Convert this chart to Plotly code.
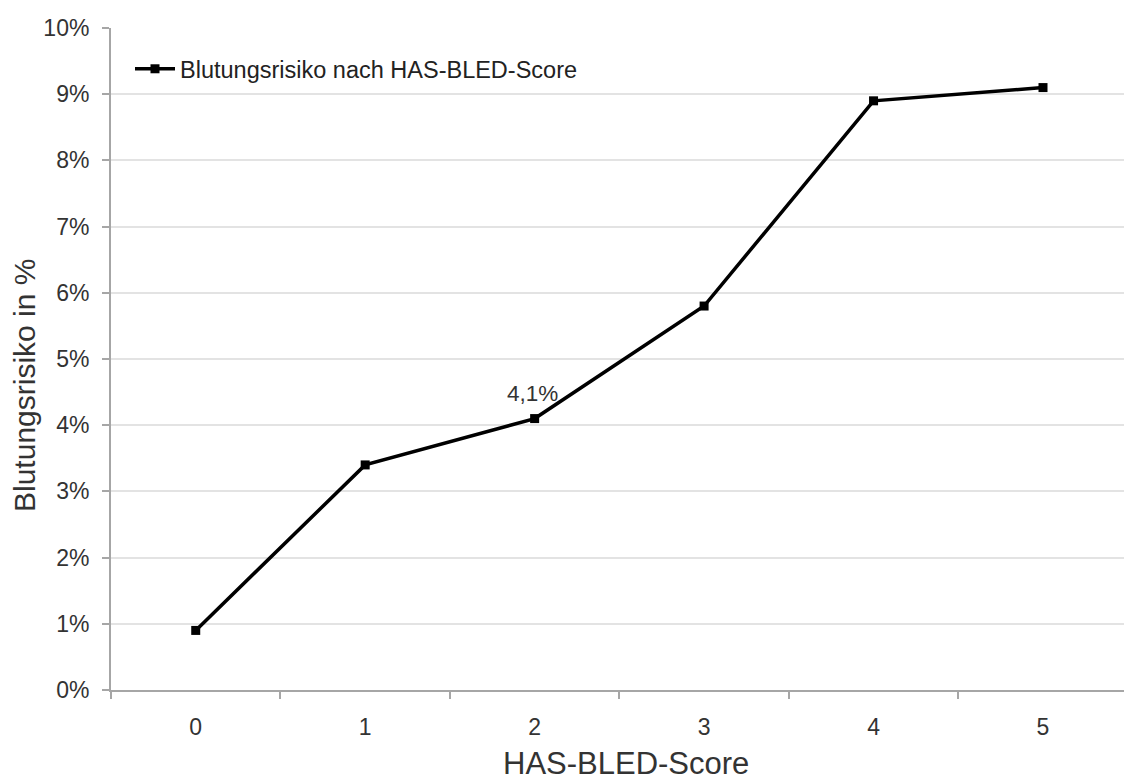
import plotly.graph_objects as go

# HAS-BLED score categories and annual bleeding risk (%)
scores = ["0", "1", "2", "3", "4", "5"]
risk_pct = [0.9, 3.4, 4.1, 5.8, 8.9, 9.1]
y_ticks = list(range(0, 11))
y_tick_text = [f"{v}%" for v in y_ticks]
series_name = "Blutungsrisiko nach HAS-BLED-Score"
labelled_score = "2"

FONT = "Liberation Sans, Arial, sans-serif"
W, H = 1124, 783
M_L, M_R, M_T, M_B = 111, 0, 28, 93
PW, PH = W - M_L - M_R, H - M_T - M_B

fig = go.Figure()
fig.add_trace(go.Scatter(
    x=scores, y=risk_pct, mode="lines+markers", name=series_name,
    line=dict(color="black", width=3.5),
    marker=dict(symbol="square", size=9, color="black"),
))

idx = scores.index(labelled_score)
fig.add_annotation(
    x=scores[idx], y=risk_pct[idx],
    text=f"{risk_pct[idx]:.1f}%".replace(".", ","),
    showarrow=False, xshift=-2, yshift=25,
    font=dict(family=FONT, size=22.5, color="#333333"),
)

# axis titles
fig.add_annotation(
    xref="paper", yref="paper", x=(626 - M_L) / PW, y=-(763 - (H - M_B)) / PH,
    text="HAS-BLED-Score", showarrow=False, xanchor="center", yanchor="middle",
    font=dict(family=FONT, size=31, color="#333333"),
)
fig.add_annotation(
    xref="paper", yref="paper", x=-(M_L - 24) / PW, y=((H - M_B) - 386) / PH,
    text="Blutungsrisiko in %", showarrow=False, textangle=-90, xanchor="center", yanchor="middle",
    font=dict(family=FONT, size=30, color="#333333"),
)

fig.update_layout(
    width=W, height=H,
    margin=dict(l=M_L, r=M_R, t=M_T, b=M_B),
    paper_bgcolor="white", plot_bgcolor="white",
    showlegend=True,
    legend=dict(
        x=(130 - M_L) / PW, y=((H - M_B) - 47) / PH,
        xanchor="left", yanchor="top", bgcolor="rgba(0,0,0,0)",
        itemwidth=40,
        font=dict(family=FONT, size=23.5, color="#222222"),
    ),
    xaxis=dict(
        type="category", range=[-0.5, 5.478], tickson="boundaries",
        ticks="outside", ticklen=7, tickcolor="#a6a6a6", tickwidth=2,
        showline=True, linecolor="#a6a6a6", linewidth=2,
        showgrid=False, zeroline=False,
        tickfont=dict(family=FONT, size=23, color="#333333"),
        ticklabelstandoff=15,
    ),
    yaxis=dict(
        range=[0, 10], tickmode="array", tickvals=y_ticks, ticktext=y_tick_text,
        ticks="outside", ticklen=7, tickcolor="#a6a6a6", tickwidth=2,
        showline=True, linecolor="#a6a6a6", linewidth=2,
        showgrid=True, gridcolor="#e3e3e3", gridwidth=2,
        zeroline=False,
        tickfont=dict(family=FONT, size=23, color="#333333"),
        ticklabelstandoff=8,
    ),
)

fig.write_html("out.html")
